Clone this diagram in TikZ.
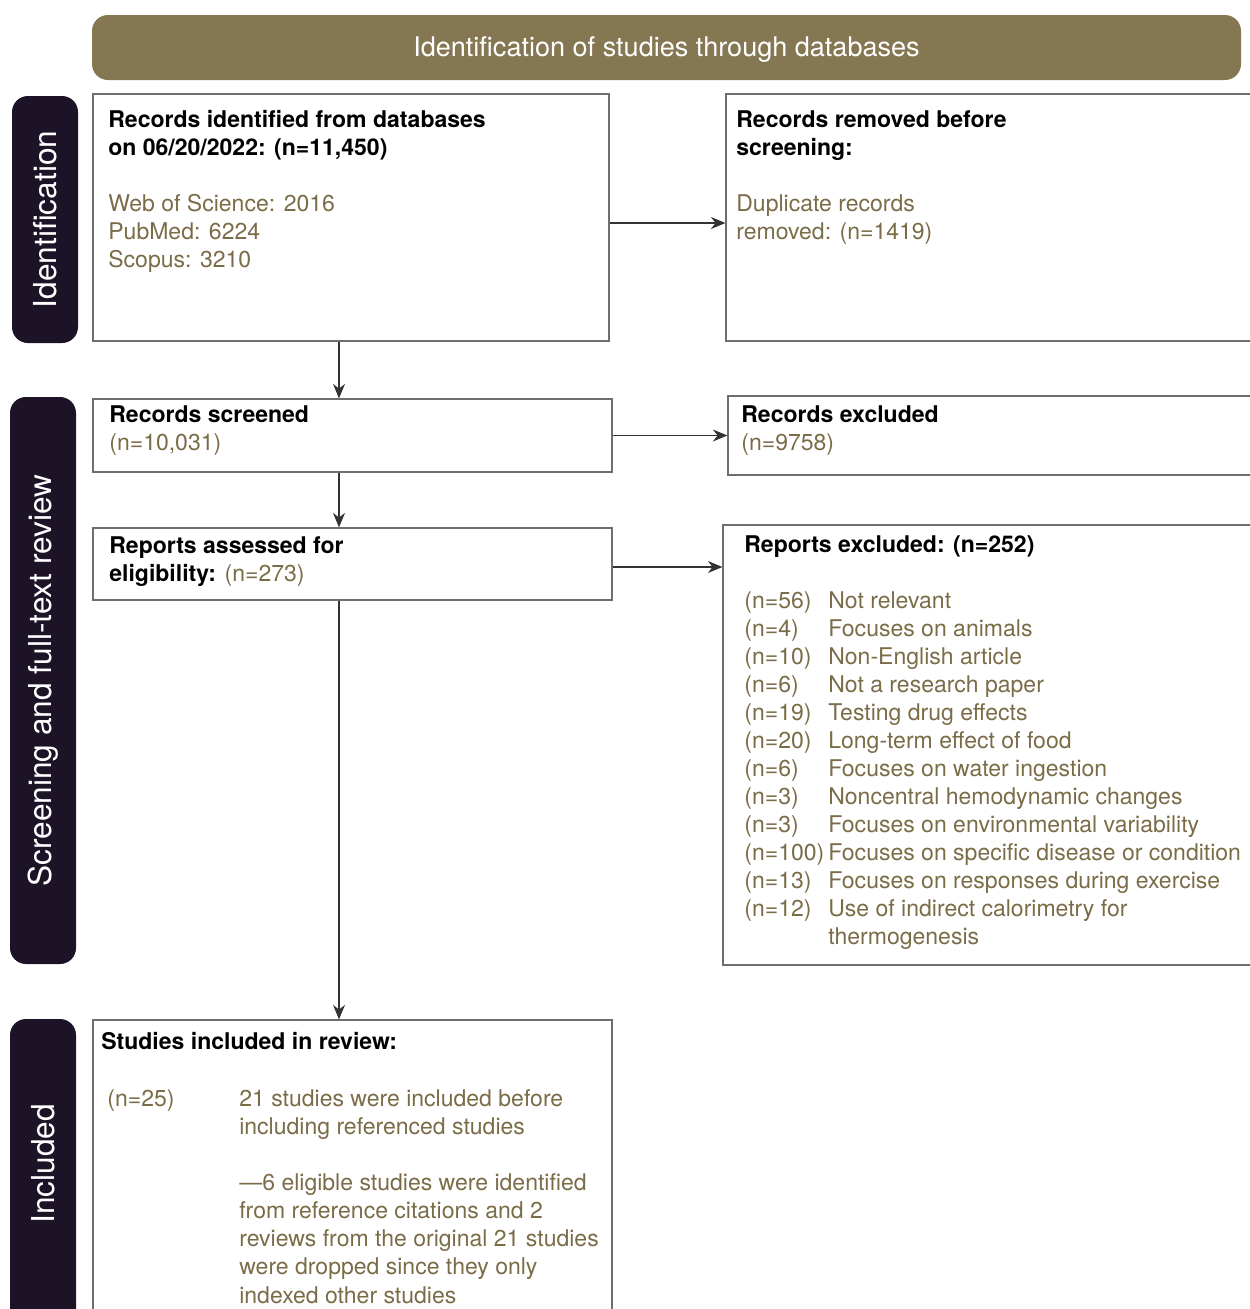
\documentclass[tikz,border=0pt]{standalone}
\usepackage{fontspec}
\setmainfont{TeX Gyre Heros}
\usepackage{xcolor}
\usetikzlibrary{arrows.meta}
\usetikzlibrary{fit}

\definecolor{countcolor}{HTML}{7B6C48}
\definecolor{bannerfill}{HTML}{857752}
\definecolor{sidefill}{HTML}{1C1327}
\definecolor{boxline}{HTML}{6E6E6E}

\newcommand{\ttl}[1]{{\color{black}\bfseries #1}}

\tikzset{
  box/.style={draw=boxline, line width=0.7pt, inner sep=0pt},
  side/.style={fill=sidefill, rounded corners=0.32cm, inner sep=0pt},
  sidetext/.style={rotate=90, text=white, font=\fontsize{18}{21}\selectfont},
  banner/.style={fill=bannerfill, rounded corners=0.32cm, inner sep=0pt},
  bannertext/.style={text=white, font=\fontsize{15.4}{18}\selectfont},
  txt/.style={anchor=north west, inner sep=0pt, align=left, text=countcolor,
    font=\fontsize{13.1}{15.94}\selectfont},
  arr/.style={draw=black!80, line width=0.6pt, -{Stealth[length=0.29cm,width=0.24cm]}},
}

\begin{document}
\begin{tikzpicture}[x=0.02cm, y=-0.02cm]
  \useasboundingbox (0,0) rectangle (1249,1309);

  \node[banner, fit={(92,15) (1241,80)}] (hd) {};
  \node[bannertext] at ([yshift=-0.05cm]hd.center) {Identification of studies through databases};

  \node[side, fit={(12,96) (78,343)}] (sid) {};
  \node[sidetext] at (sid) {Identification};
  \node[side, fit={(10,397) (76,964)}] (ssc) {};
  \node[sidetext] at (ssc) {Screening and full-text review};
  \node[side, fit={(10,1019) (76,1340)}] (sin) {};
  \node[sidetext] at (sin.center |- 0,1164) {Included};

  \node[box, fit={(93,94) (609,341)}] (id) {};
  \node[box, fit={(726,94) (1262,341)}] (rm) {};
  \node[box, fit={(93,399) (612,472)}] (sc) {};
  \node[box, fit={(728,396) (1262,475)}] (ex) {};
  \node[box, fit={(93,528) (612,600)}] (as) {};
  \node[box, fit={(723,525) (1262,965)}] (re) {};
  \node[box, fit={(93,1020) (612,1340)}] (si) {};

  \node[txt] at (108,110) {\ttl{Records identified from databases}\\
    \ttl{on 06/20/2022: (n=11,450)}\\[0.56cm]
    Web of Science: 2016\\PubMed: 6224\\Scopus: 3210};
  \node[txt] at (736,110) {\ttl{Records removed before}\\\ttl{screening:}\\[0.56cm]
    Duplicate records\\removed: (n=1419)};
  \node[txt] at (109,405) {\ttl{Records screened}\\(n=10,031)};
  \node[txt] at (741,405) {\ttl{Records excluded}\\(n=9758)};
  \node[txt] at (109,536) {\ttl{Reports assessed for}\\\ttl{eligibility:} (n=273)};
  \node[txt] at (744,535) {\ttl{Reports excluded: (n=252)}\\[0.6cm]
    \begin{tabular}{@{}p{1.68cm}@{}l@{}}
      (n=56) & Not relevant\\
      (n=4) & Focuses on animals\\
      (n=10) & Non-English article\\
      (n=6) & Not a research paper\\
      (n=19) & Testing drug effects\\
      (n=20) & Long-term effect of food\\
      (n=6) & Focuses on water ingestion\\
      (n=3) & Noncentral hemodynamic changes\\
      (n=3) & Focuses on environmental variability\\
      (n=100) & Focuses on specific disease or condition\\
      (n=13) & Focuses on responses during exercise\\
      (n=12) & Use of indirect calorimetry for\\
             & thermogenesis
    \end{tabular}};
  \node[txt] at (101,1032) {\ttl{Studies included in review:}};
  \node[txt] at (107,1087) {\begin{tabular}{@{}p{2.64cm}@{}l@{}}
      (n=25) & 21 studies were included before\\
             & including referenced studies\\[0.56cm]
             & ---6 eligible studies were identified\\
             & from reference citations and 2\\
             & reviews from the original 21 studies\\
             & were dropped since they only\\
             & indexed other studies
    \end{tabular}};

  \coordinate (spine) at (339,0);
  \draw[arr] (id.south -| spine) -- (sc.north -| spine);
  \draw[arr] (sc.south -| spine) -- (as.north -| spine);
  \draw[arr] (as.south -| spine) -- (si.north -| spine);
  \draw[arr] (id.east |- 0,223) -- (rm.west |- 0,223);
  \draw[arr] (sc.east) -- (sc.east -| ex.west);
  \draw[arr] (as.east |- 0,567) -- (re.west |- 0,567);
\end{tikzpicture}
\end{document}
